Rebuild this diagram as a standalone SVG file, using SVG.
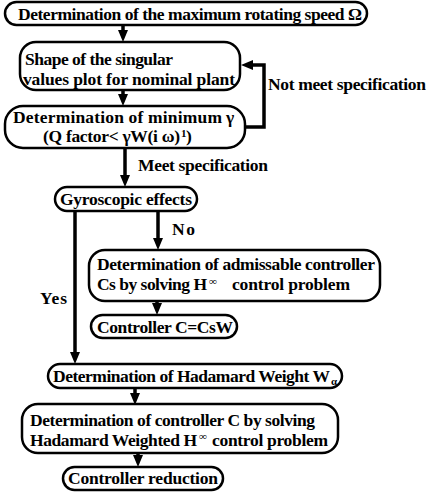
<svg xmlns="http://www.w3.org/2000/svg" width="429" height="497" viewBox="0 0 429 497">
<style>
.box{fill:#fff;stroke:#000;stroke-width:2.5}
.t{font-family:"Liberation Serif","Times New Roman",serif;font-weight:bold;font-size:17.5px;fill:#000}
.sup{font-family:"Liberation Serif","Times New Roman",serif;font-weight:bold;font-size:11px;fill:#000}
.c{fill:none;stroke:#000;stroke-width:3.5}
</style>
<defs>
<marker id="ah" viewBox="0 0 12 10" refX="4" refY="5" markerWidth="12" markerHeight="10" markerUnits="userSpaceOnUse" orient="auto">
<path d="M0,0 L12,5 L0,10 z" fill="#000"/>
</marker>
</defs>
<rect width="429" height="497" fill="#fff"/>
<g id="connectors">
<line class="c" x1="123" y1="25" x2="123" y2="34" marker-end="url(#ah)"/>
<line class="c" x1="123" y1="90" x2="123" y2="98" marker-end="url(#ah)"/>
<polyline class="c" points="245,127 264,127 264,65 249,65" marker-end="url(#ah)"/>
<line class="c" x1="125" y1="148" x2="125" y2="179" marker-end="url(#ah)"/>
<line class="c" x1="75" y1="211" x2="75" y2="356" marker-end="url(#ah)"/>
<line class="c" x1="158" y1="211" x2="158" y2="242" marker-end="url(#ah)"/>
<line class="c" x1="157" y1="301" x2="157" y2="307" marker-end="url(#ah)"/>
<line class="c" x1="135" y1="388" x2="135" y2="397" marker-end="url(#ah)"/>
<line class="c" x1="138" y1="453" x2="138" y2="459" marker-end="url(#ah)"/>
<text class="t" x="268" y="90" textLength="158">Not meet specification</text>
<text class="t" x="138" y="171" textLength="130">Meet specification</text>
<text class="t" x="40" y="304" textLength="27">Yes</text>
<text class="t" x="172" y="235" textLength="23">No</text>
</g>
<g id="n1">
<rect class="box" x="5" y="2" width="362" height="23" rx="11.5"/>
<text class="t" x="18" y="19.5" textLength="344">Determination of the maximum rotating speed Ω</text>
</g>
<g id="n2">
<rect class="box" x="20" y="42" width="220" height="48" rx="16"/>
<text class="t" x="25" y="64.5" textLength="148">Shape of the singular</text>
<text class="t" x="23" y="84.5" textLength="212">values plot for nominal plant</text>
</g>
<g id="n3">
<rect class="box" x="5" y="106" width="240" height="42" rx="18"/>
<text class="t" x="13" y="122.5" textLength="209">Determination of minimum</text>
<text class="t" x="226" y="122.5">γ</text>
<text class="t" x="43" y="142" textLength="137">(Q  factor&lt; γW(i ω)</text>
<text class="sup" x="181" y="136.5">1</text>
<text class="t" x="186" y="142">)</text>
</g>
<g id="n4">
<rect class="box" x="55" y="187" width="142" height="24" rx="12"/>
<text class="t" x="60" y="205" textLength="132">Gyroscopic effects</text>
</g>
<g id="n5">
<rect class="box" x="89" y="250" width="291" height="51" rx="16"/>
<text class="t" x="97" y="270" textLength="278">Determination of admissable controller</text>
<text class="t" x="97" y="290" textLength="110">Cs by solving H</text>
<text class="sup" x="209" y="285">∞</text>
<text class="t" x="232" y="290" textLength="118">control problem</text>
</g>
<g id="n6">
<rect class="box" x="91" y="315" width="146" height="23" rx="11.5"/>
<text class="t" x="97" y="333" textLength="136">Controller C=CsW</text>
</g>
<g id="n7">
<rect class="box" x="48" y="364" width="294" height="24" rx="12"/>
<text class="t" x="53" y="382" textLength="277">Determination of Hadamard Weight W</text>
<text class="sup" x="331" y="385">α</text>
</g>
<g id="n8">
<rect class="box" x="22" y="404" width="316" height="49" rx="16"/>
<text class="t" x="30" y="425.5" textLength="285">Determination of controller C by solving</text>
<text class="t" x="30" y="445.5" textLength="167">Hadamard Weighted H</text>
<text class="sup" x="199" y="440">∞</text>
<text class="t" x="212" y="445.5" textLength="116">control problem</text>
</g>
<g id="n9">
<rect class="box" x="63" y="467" width="160" height="23" rx="11.5"/>
<text class="t" x="68" y="484" textLength="150">Controller reduction</text>
</g>
</svg>
